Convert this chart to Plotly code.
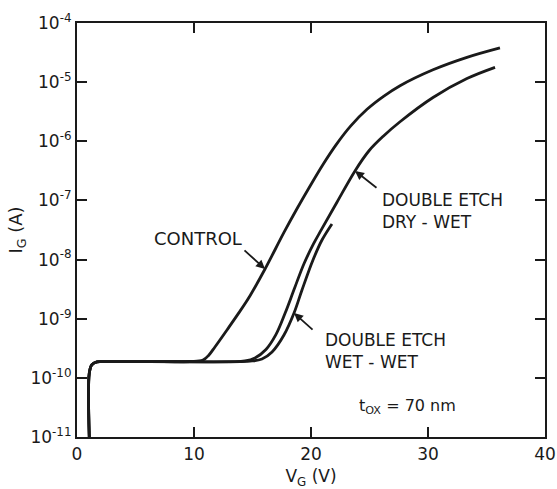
import math
import plotly.graph_objects as go

# ---------------- data ----------------
# shared turn-on / leakage floor (V_G in volts, I_G in amperes)
base_v = [1.05, 1.05, 1.26, 1.71, 2.22, 6.2]
base_i = [1e-11, 1.20e-10, 1.66e-10, 1.86e-10, 1.88e-10, 1.88e-10]

control_v = [9.66, 10.77, 11.28, 11.79, 12.82, 13.8, 14.79, 16.07, 17.69, 18.8,
             19.91, 21.0, 22.14, 23.4, 24.79, 26.2, 27.61, 30.43, 33.33, 36.15]
control_i = [1.89e-10, 2.00e-10, 2.44e-10, 3.33e-10, 6.46e-10, 1.23e-9, 2.45e-9,
             6.92e-9, 2.88e-8, 7.24e-8, 1.74e-7, 3.98e-7, 8.71e-7, 1.82e-6,
             3.47e-6, 5.75e-6, 8.71e-6, 1.62e-5, 2.63e-5, 3.80e-5]

drywet_v = [13.08, 14.36, 15.21, 16.15, 17.0, 17.8, 18.6, 19.4, 20.2, 20.9,
            22.22, 23.76, 24.96, 26.2, 27.61, 30.43, 33.33, 35.73]
drywet_i = [1.88e-10, 1.93e-10, 2.17e-10, 3.02e-10, 5.37e-10, 1.26e-9, 3.31e-9,
            8.51e-9, 1.82e-8, 3.24e-8, 9.33e-8, 3.16e-7, 6.92e-7, 1.23e-6,
            2.14e-6, 5.50e-6, 1.15e-5, 1.78e-5]

wetwet_v = [13.93, 14.96, 15.81, 16.67, 17.69, 18.55, 19.23, 20.17, 20.94, 21.79]
wetwet_i = [1.88e-10, 1.93e-10, 2.08e-10, 2.74e-10, 5.31e-10, 1.25e-9, 3.06e-9,
            9.84e-9, 2.14e-8, 4.00e-8]

x_ticks = [0, 10, 20, 30, 40]
y_ticks = [1e-11, 1e-10, 1e-9, 1e-8, 1e-7, 1e-6, 1e-5, 1e-4]
y_ticktext = ["10<sup>-11</sup>", "10<sup>-10</sup>", "10<sup>-9</sup>", "10<sup>-8</sup>",
              "10<sup>-7</sup>", "10<sup>-6</sup>", "10<sup>-5</sup>", "10<sup>-4</sup>"]

INK = "#1a1a1a"
FONT = "DejaVu Sans"

fig = go.Figure()
for vv, ii in [(control_v, control_i), (drywet_v, drywet_i), (wetwet_v, wetwet_i)]:
    fig.add_trace(go.Scatter(
        x=base_v + vv, y=base_i + ii, mode="lines",
        line=dict(color=INK, width=2.8, shape="spline", smoothing=1.0),
        showlegend=False, hoverinfo="skip"))

axis_common = dict(showline=True, linecolor=INK, linewidth=2.2, mirror="ticks",
                   ticks="inside", ticklen=10, tickwidth=2, tickcolor=INK,
                   showgrid=False, zeroline=False, automargin=False,
                   tickfont=dict(family=FONT, size=17, color=INK))

fig.update_xaxes(range=[0, 40], tickvals=x_ticks, ticktext=[str(t) for t in x_ticks],
                 ticklabelstandoff=0,
                 title=dict(text="V<sub>G</sub> (V)", font=dict(family=FONT, size=17, color=INK),
                            standoff=16),
                 **axis_common)
fig.update_yaxes(type="log", range=[-11, -4], tickvals=y_ticks, ticktext=y_ticktext,
                 title=dict(text="I<sub>G</sub> (A)", font=dict(family=FONT, size=18, color=INK),
                            standoff=3),
                 **axis_common)


def lg(v):
    return math.log10(v)


ann = []
# arrows pointing to the curves
for (tx, ty, ax, ay) in [(control_v[7], control_i[7], -22, -20),
                         (drywet_v[11], drywet_i[11], 23, 18),
                         (wetwet_v[5], wetwet_i[5], 20, 18)]:
    ann.append(dict(x=tx, y=lg(ty), ax=ax, ay=ay, text="", showarrow=True,
                    arrowhead=2, arrowsize=1, arrowwidth=1.8, arrowcolor=INK,
                    standoff=0, startstandoff=0))

ann.append(dict(x=6.41, y=-7.652, text="CONTROL", showarrow=False, xanchor="left",
                yanchor="middle", font=dict(family=FONT, size=18, color=INK)))
lab_font = dict(family=FONT, size=17, color=INK)
for (txt, x, y) in [("DOUBLE ETCH<br>DRY - WET", 25.9, -7.187),
                    ("DOUBLE ETCH<br>WET - WET", 21.0, -9.542)]:
    ann.append(dict(x=x, y=y, text=txt, showarrow=False, xanchor="left",
                    yanchor="middle", align="left", font=lab_font))
ann.append(dict(x=23.9, y=-10.476, text="t<sub>OX</sub> = 70 nm", showarrow=False,
                xanchor="left", yanchor="middle",
                font=dict(family=FONT, size=16, color=INK)))

fig.update_layout(
    width=557, height=489,
    margin=dict(l=77, r=12, t=23, b=52),
    paper_bgcolor="white", plot_bgcolor="white",
    annotations=ann,
    font=dict(family=FONT, color=INK),
)

fig.write_html("out.html")
